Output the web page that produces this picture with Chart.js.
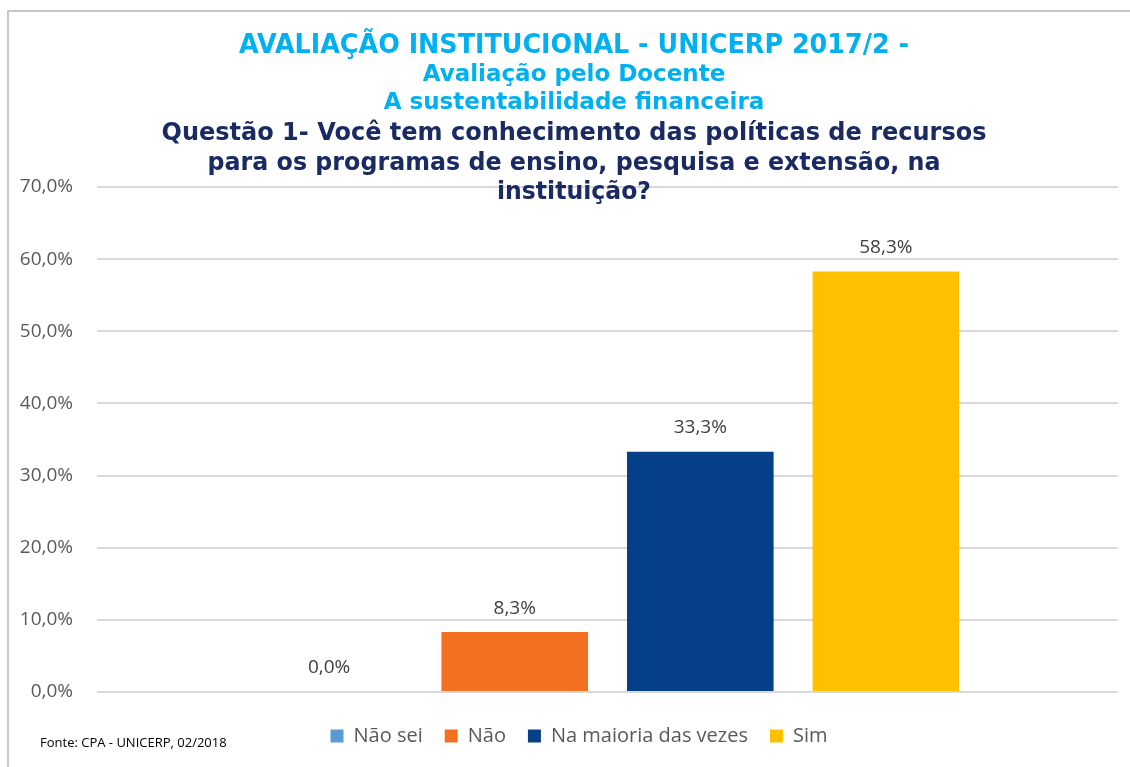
<!DOCTYPE html>
<html>
<head>
<meta charset="utf-8">
<script src="https://cdn.jsdelivr.net/npm/chart.js@4.4.0/dist/chart.umd.min.js"></script>
<style>
body{margin:0;background:#fff;}
#wrap{position:relative;width:1130px;height:767px;}
#lineTop{position:absolute;left:7px;top:10px;width:1123px;height:2px;background:#c8c8c8;}
#lineLeft{position:absolute;left:7px;top:10px;width:2px;height:757px;background:#c8c8c8;}
#fonte{position:absolute;left:40px;top:733px;font:13px "Open Sans",sans-serif;color:#000;}
</style>
</head>
<body>
<div id="wrap">
<canvas id="barChart" width="1130" height="767"></canvas>
<div id="lineTop"></div>
<div id="lineLeft"></div>
<div id="fonte">Fonte: CPA - UNICERP, 02/2018</div>
</div>
<script>

// DATA

var categories = ["Não sei", "Não", "Na maioria das vezes", "Sim"];
var values = [0.0, 8.3, 33.3, 58.3];
var colors = ["#5B9BD5", "#F37021", "#043F88", "#FFC000"];
var yTicks = [0, 10, 20, 30, 40, 50, 60, 70];

var titleLines = [
  "AVALIAÇÃO INSTITUCIONAL - UNICERP 2017/2 -",
  "Avaliação pelo Docente",
  "A sustentabilidade financeira",
  "Questão 1- Você tem conhecimento das políticas de recursos",
  "para os programas de ensino, pesquisa e extensão, na",
  "instituição?"
];

// title look: y, size, colour, width
var titleStyle = [
  [46, 27, "#00B0F0", 670],
  [75, 23, "#00B0F0", 320],
  [103, 23, "#00B0F0", 398],
  [133, 25, "#1a2a62", 825],
  [163, 25, "#1a2a62", 733],
  [192, 25, "#1a2a62", 154]
];

function pct(v){
  return v.toFixed(1).replace(".", ",") + "%";
}

var datasets = categories.map(function(c, i){
  return {
    label: c,
    data: [values[i]],
    backgroundColor: colors[i],
    categoryPercentage: 0.727,
    barPercentage: 0.79
  };
});

var titlePlugin = {
  id: "titlePlugin",
  afterDraw: function(chart){
    var ctx = chart.ctx;
    ctx.save();
    ctx.textAlign = "center";
    ctx.textBaseline = "middle";
    titleLines.forEach(function(t, i){
      var s = titleStyle[i];
      ctx.font = "bold " + s[1] + "px 'DejaVu Sans'";
      ctx.fillStyle = s[2];
      ctx.fillText(t, 574, s[0], s[3]);
    });
    ctx.restore();
  }
};

var valueLabels = {
  id: "valueLabels",
  afterDatasetsDraw: function(chart){
    var ctx = chart.ctx;
    ctx.save();
    ctx.font = "19px 'Open Sans'";
    ctx.fillStyle = "#404040";
    ctx.textAlign = "center";
    ctx.textBaseline = "middle";
    chart.data.datasets.forEach(function(ds, i){
      var bar = chart.getDatasetMeta(i).data[0];
      ctx.fillText(pct(ds.data[0]), bar.x, bar.y - 24);
    });
    ctx.restore();
  }
};

// nudge the legend a bit right, like the original
var legendShift = {
  id: "legendShift",
  afterLayout: function(chart){
    chart.legend.left += 20;
    chart.legend.right += 20;
  }
};

new Chart(document.getElementById("barChart"), {

type: "bar",

data: {
  labels: [""],
  datasets: datasets
},

options: {
  responsive: false,
  animation: false,
  layout: {padding: {left: 0, right: 12, top: 187, bottom: 11}},
  plugins: {
    legend: {
      position: "bottom",
      labels: {
        boxWidth: 13,
        boxHeight: 13,
        padding: 22,
        color: "#595959",
        font: {family: "Open Sans", size: 20}
      }
    },
    tooltip: {enabled: false}
  },
  scales: {
    x: {
      grid: {display: false},
      border: {display: false},
      ticks: {display: false},
      afterFit: function(s){ s.height = 12; }
    },
    y: {
      min: 0,
      max: 70,
      afterBuildTicks: function(s){
        s.ticks = yTicks.map(function(v){ return {value: v}; });
      },
      afterFit: function(s){ s.width = 97; },
      grid: {color: "#d9d9d9", lineWidth: 2, drawTicks: false},
      border: {display: false},
      ticks: {
        padding: 24,
        color: "#595959",
        font: {family: "Open Sans", size: 19},
        callback: function(v){ return pct(v); }
      }
    }
  }
},

plugins: [titlePlugin, valueLabels, legendShift]

});

</script>
</body>
</html>
